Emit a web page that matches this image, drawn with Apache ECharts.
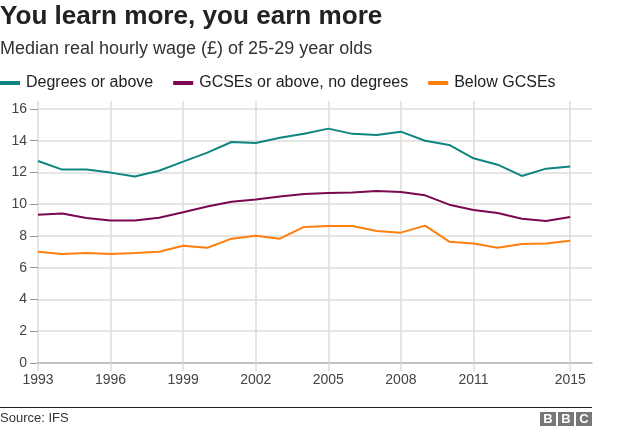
<!DOCTYPE html>
<html>
<head>
<meta charset="utf-8">
<script src="https://cdn.jsdelivr.net/npm/echarts@6/dist/echarts.min.js"></script>
<style>
html,body{margin:0;padding:0;background:#fff;}
#chart{width:624px;height:431px;}
</style>
</head>
<body>
<div id="chart"></div>
<script>
var years = [1993,1994,1995,1996,1997,1998,1999,2000,2001,2002,2003,2004,2005,2006,2007,2008,2009,2010,2011,2012,2013,2014,2015];
var degrees = [12.72,12.18,12.18,11.99,11.74,12.11,12.68,13.25,13.92,13.86,14.19,14.44,14.76,14.43,14.36,14.57,14.0,13.73,12.89,12.49,11.78,12.24,12.37];
var gcses = [9.34,9.41,9.13,8.97,8.97,9.15,9.49,9.85,10.16,10.29,10.48,10.65,10.71,10.73,10.83,10.77,10.56,9.97,9.64,9.45,9.09,8.94,9.2];
var belowGcses = [7.01,6.87,6.93,6.87,6.93,7.01,7.39,7.26,7.83,8.02,7.83,8.57,8.63,8.63,8.31,8.21,8.65,7.64,7.52,7.26,7.5,7.52,7.7];
var xTicks = [1993,1996,1999,2002,2005,2008,2011,2015];
var yTicks = [0,2,4,6,8,10,12,14,16];
var seriesNames = ['Degrees or above','GCSEs or above, no degrees','Below GCSEs'];
var colors = ['#0e8580','#7b0751','#ff7f0e'];

var font = 'Liberation Sans, Arial, Helvetica, sans-serif';
function pairs(vals){ return years.map(function(y,i){ return [y, vals[i]]; }); }

var chart = echarts.init(document.getElementById('chart'), null, {renderer:'canvas'});
var option = {
  animation:false,
  textStyle:{fontFamily:font},
  title:[
    {text:'You learn more, you earn more', left:0, top:4, padding:0, textStyle:{fontFamily:font,fontSize:26.1,fontWeight:'bold',color:'#222'}},
    {text:'Median real hourly wage (£) of 25-29 year olds', left:0, top:40, padding:0, textStyle:{fontFamily:font,fontSize:18,fontWeight:'normal',color:'#333'}}
  ],
  legend:{
    left:0, top:75, padding:0, itemWidth:20, itemHeight:4, itemGap:20, icon:'rect',
    textStyle:{fontFamily:font,fontSize:16,color:'#222',padding:[0,0,0,1]},
    data:seriesNames
  },
  grid:{left:38,right:32,top:101,bottom:68,containLabel:false},
  xAxis:{
    type:'value', min:1993, max:2015.9,
    axisLine:{show:true,lineStyle:{color:'#b5b5b5',width:1.5}},
    axisTick:{show:true,length:8,customValues:xTicks,lineStyle:{color:'#dcdcdc',width:1.5}},
    axisLabel:{customValues:xTicks,fontSize:14,color:'#444',margin:10,fontFamily:font,formatter:function(v){return String(v);}},
    splitLine:{show:true,lineStyle:{color:'#dcdcdc',width:1.5}}
  },
  yAxis:{
    type:'value', min:0, max:16.5,
    axisLine:{show:false},
    axisTick:{show:true,length:8,customValues:yTicks,lineStyle:{color:'#999',width:1}},
    axisLabel:{customValues:yTicks,fontSize:14,color:'#444',margin:11,fontFamily:font},
    splitLine:{show:true,lineStyle:{color:'#dcdcdc',width:1.5}}
  },
  series:[
    {name:seriesNames[0],type:'line',data:pairs(degrees),symbol:'none',lineStyle:{width:2,color:colors[0]},itemStyle:{color:colors[0]}},
    {name:seriesNames[1],type:'line',data:pairs(gcses),symbol:'none',lineStyle:{width:2,color:colors[1]},itemStyle:{color:colors[1]}},
    {name:seriesNames[2],type:'line',data:pairs(belowGcses),symbol:'none',lineStyle:{width:2,color:colors[2]},itemStyle:{color:colors[2]}}
  ],
  graphic:[
    {type:'line',shape:{x1:0,y1:407.5,x2:592,y2:407.5},style:{stroke:'#222',lineWidth:1}},
    {type:'text',left:0,top:412,style:{text:'Source: IFS',fontFamily:font,fontSize:13,fill:'#333'}},
    {type:'rect',shape:{x:540,y:412,width:16,height:14},style:{fill:'#777'}},
    {type:'rect',shape:{x:558,y:412,width:16,height:14},style:{fill:'#777'}},
    {type:'rect',shape:{x:576,y:412,width:16,height:14},style:{fill:'#777'}},
    {type:'text',x:548,y:419.5,style:{text:'B',fontFamily:font,fontSize:13,fontWeight:'bold',fill:'#fff',align:'center',verticalAlign:'middle'}},
    {type:'text',x:566,y:419.5,style:{text:'B',fontFamily:font,fontSize:13,fontWeight:'bold',fill:'#fff',align:'center',verticalAlign:'middle'}},
    {type:'text',x:584,y:419.5,style:{text:'C',fontFamily:font,fontSize:13,fontWeight:'bold',fill:'#fff',align:'center',verticalAlign:'middle'}}
  ]
};
chart.setOption(option);
</script>
</body>
</html>
